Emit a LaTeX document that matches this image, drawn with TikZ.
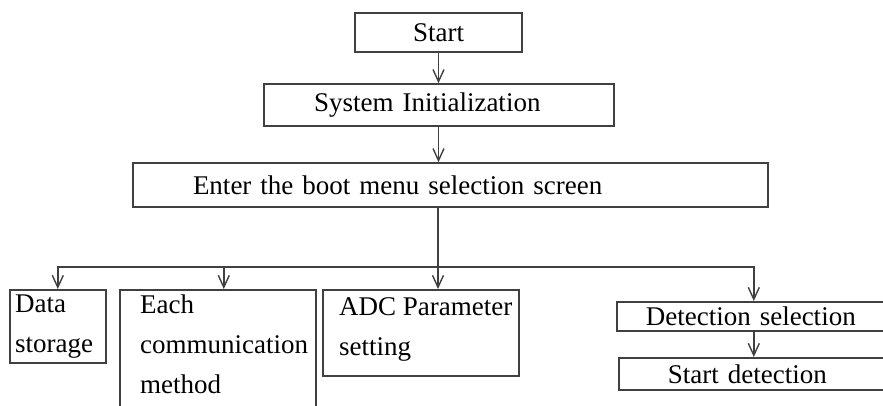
\documentclass[tikz,border=0pt]{standalone}
\usepackage{fontspec}
\setmainfont{Liberation Serif}
\usetikzlibrary{arrows.meta}
\begin{document}
\begin{tikzpicture}[x=1pt,y=-1pt,
  every node/.style={font=\fontsize{27}{40}\selectfont, text=black},
  box/.style={draw=black!75, line width=1.6pt, rectangle, inner sep=0pt},
  txt/.style={inner sep=0pt, align=left, anchor=north west},
  arr/.style={draw=black!75, line width=1.4pt, -{Straight Barb[length=12pt,width=11pt,line width=1.4pt]}},
  ln/.style={draw=black!75, line width=1.4pt}]
\clip (0,0) rectangle (883,406);
\fill[white] (0,0) rectangle (883,406);
% top chain
\node[box, minimum width=167pt, minimum height=39pt] (start) at (438.5,32.5) {Start};
\node[box, minimum width=350pt, minimum height=42pt, inner xsep=50pt, text width=250pt, align=left] (init) at (439,105) {System Initialization};
\node[box, minimum width=635pt, minimum height=44pt, inner xsep=60pt, text width=515pt, align=left] (enter) at (450.5,185) {Enter the boot menu selection screen};
% lower boxes
\node[box, minimum width=96pt, minimum height=73pt, anchor=north west] (data) at (9,289) {};
\node[txt] (datat) at (15,295) {Data\\storage};
\node[box, minimum width=196pt, minimum height=140pt, anchor=north west] (comm) at (119,289) {};
\node[txt] (commt) at (140,295) {Each\\communication\\method};
\node[box, minimum width=196pt, minimum height=86pt, anchor=north west] (adc) at (322,289) {};
\node[txt] (adct) at (339,297) {ADC Parameter\\setting};
\node[box, minimum width=274pt, minimum height=29pt, anchor=north west, inner xsep=29pt, text width=216pt, align=left] (det) at (616,301) {Detection selection};
\node[box, minimum width=272pt, minimum height=32pt, anchor=north west, inner xsep=49pt, text width=174pt, align=left] (sdet) at (618,357) {Start detection};
% connectors
\draw[arr] (start.south) -- (start.south |- init.north);
\draw[arr] (init.south -| start.south) -- (start.south |- enter.north);
\coordinate (split) at (438,267);
\draw[ln] (split |- enter.south) -- (split);
\draw[arr] (split) -| (data.north);
\draw[arr] (split) -| ([xshift=6pt]comm.north);
\draw[arr] (split) -- (split |- adc.north);
\draw[arr] (split) -| (det.north);
\draw[arr] (det.south) -- (det.south |- sdet.north);
\end{tikzpicture}
\end{document}
